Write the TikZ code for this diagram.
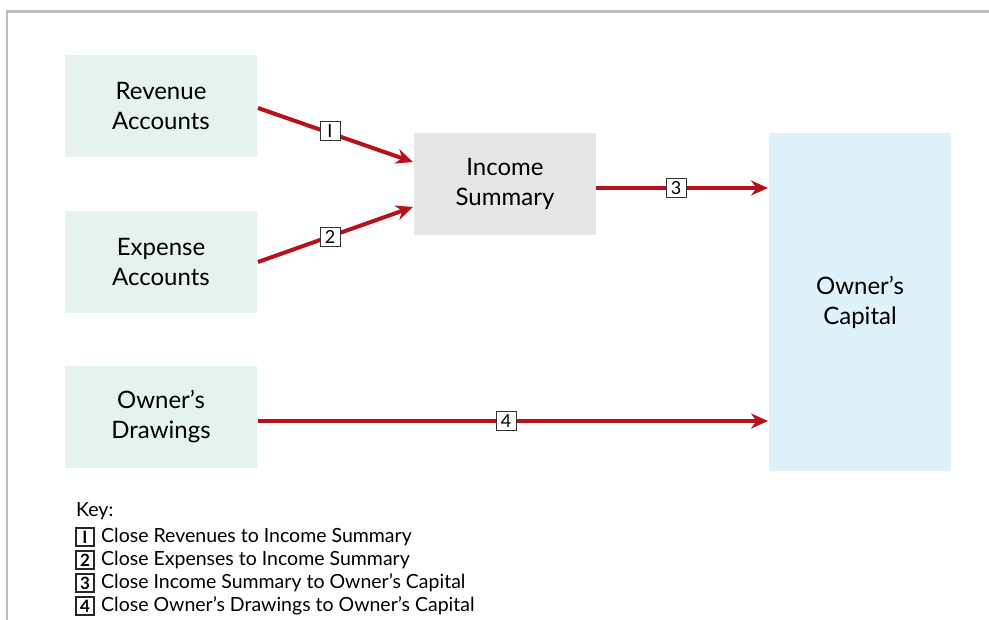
\documentclass[tikz,border=0pt]{standalone}
\usepackage{fontspec}
\setmainfont{Lato}
\usetikzlibrary{arrows.meta}
\definecolor{tealbox}{HTML}{E4F3F0}
\definecolor{graybox}{HTML}{E5E6E8}
\definecolor{bluebox}{HTML}{DFF1F9}
\definecolor{arrred}{HTML}{B5121B}
\definecolor{frame}{HTML}{BDBDBF}
\tikzset{
  acct/.style={fill=tealbox, minimum width=192pt, minimum height=102pt, align=center, font=\fontsize{24}{30}\selectfont, inner sep=0pt},
  flow/.style={draw=arrred, line width=4pt, -{Stealth[length=17pt,width=15pt]}},
  num/.style={draw=black!80, fill=white, line width=0.8pt, minimum width=20pt, minimum height=19pt, inner sep=0pt, font=\fontsize{18}{18}\selectfont},
  keynum/.style={draw=black!85, line width=1.1pt, minimum width=18pt, minimum height=18pt, inner sep=0pt, font=\bfseries\fontsize{17}{17}\selectfont},
  keytxt/.style={anchor=west, inner sep=0pt, font=\fontsize{19.5}{22}\selectfont}
}
\begin{document}
\begin{tikzpicture}[x=1pt,y=-1pt]
\useasboundingbox (0,0) rectangle (989,620);
\fill[white] (0,0) rectangle (989,620);
\draw[frame, line width=2.5pt] (7,620) -- (7,11.5) -- (989,11.5);

\node[acct] (rev) at (161,106) {Revenue\\Accounts};
\node[acct] (exp) at (161,262) {Expense\\Accounts};
\node[acct] (draw) at (161,417) {Owner’s\\Drawings};
\node[acct, fill=graybox, minimum width=182pt] (inc) at (505,184) {Income\\Summary};
\node[acct, fill=bluebox, minimum width=182pt, minimum height=338pt] (cap) at (860,302) {Owner’s\\Capital};

\coordinate (r1) at (258,108);
\coordinate (i1) at (413,162);
\coordinate (e1) at (258,262);
\coordinate (i2) at (413,207);
\coordinate (d1) at (258,421);
\coordinate (c4) at (768,421);
\coordinate (s1) at (596,188);
\coordinate (c3) at (768,188);

\draw[flow] (r1) -- (i1);
\draw[flow] (e1) -- (i2);
\draw[flow] (s1) -- (c3);
\draw[flow] (d1) -- (c4);

\node[num] (n1) at (330,131) {I};
\node[num] (n2) at (330,237) {2};
\node[num] (n3) at (676,188) {3};
\node[num] (n4) at (506,421) {4};

\node[keytxt] (key) at (76,511) {Key:};
\node[keynum] (k1) at (85,537) {I};
\node[keytxt] (t1) at (101,537) {Close Revenues to Income Summary};
\node[keynum] (k2) at (85,560) {2};
\node[keytxt] (t2) at (101,560) {Close Expenses to Income Summary};
\node[keynum] (k3) at (85,583) {3};
\node[keytxt] (t3) at (101,583) {Close Income Summary to Owner’s Capital};
\node[keynum] (k4) at (85,606) {4};
\node[keytxt] (t4) at (101,606) {Close Owner’s Drawings to Owner’s Capital};
\end{tikzpicture}
\end{document}
